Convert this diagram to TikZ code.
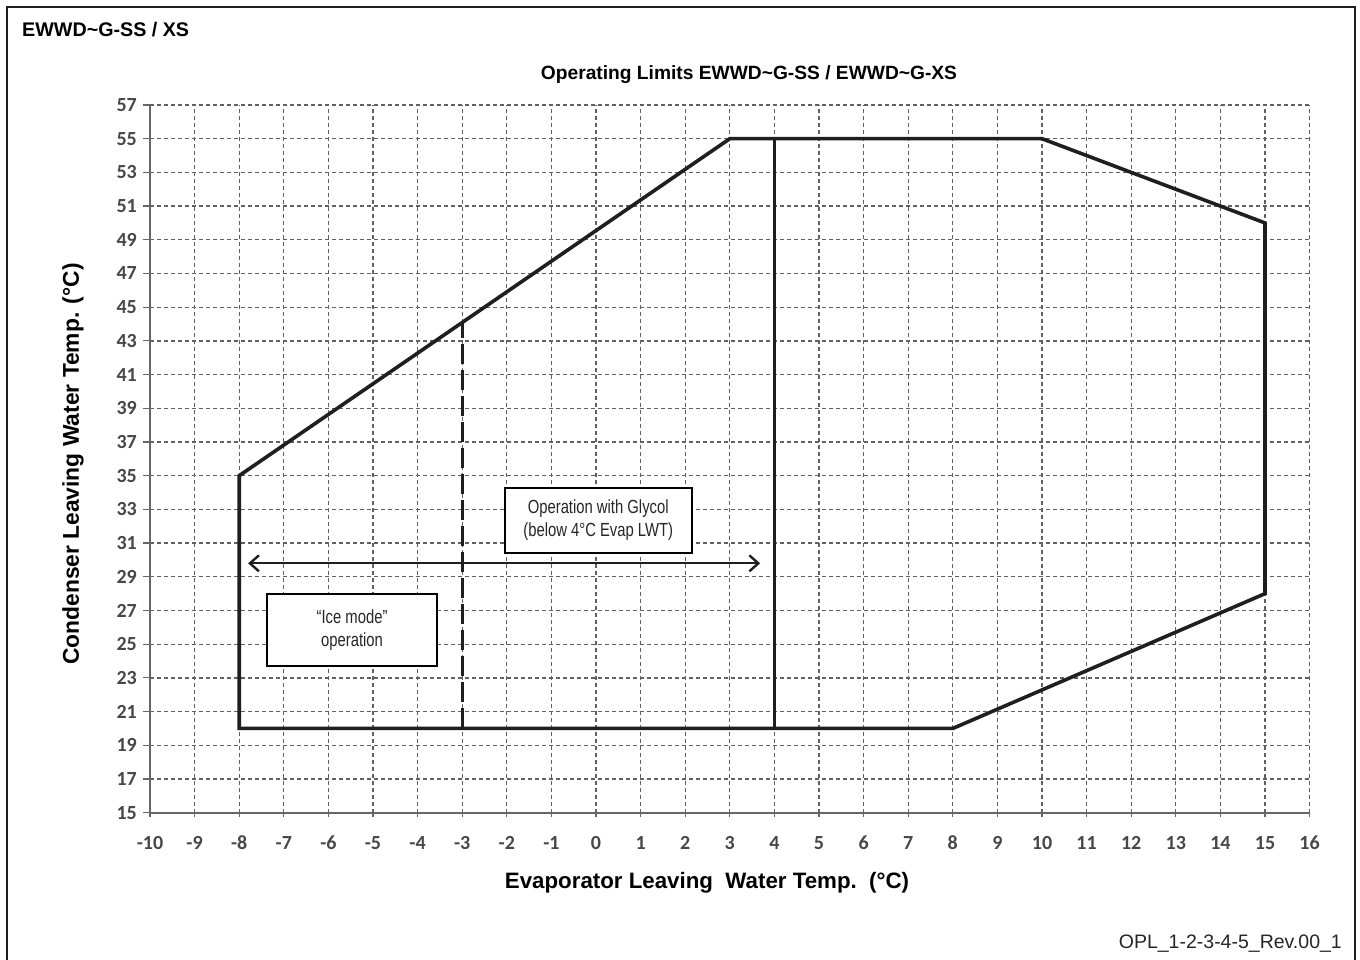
\documentclass[tikz,border=0pt]{standalone}
\usepackage{fontspec}
\setmainfont{Liberation Sans}
\newfontfamily\calibri{Carlito}
\newfontfamily\narrowfont[FakeStretch=0.78]{Liberation Sans}
\usetikzlibrary{arrows.meta}

\begin{document}
\begin{tikzpicture}[x=1pt,y=1pt,
    frame/.style={line width=2.2pt,black!88},
    gridline/.style={black!62,line width=1.3pt,dash pattern=on 4pt off 3pt},
    axisline/.style={black!60,line width=1.6pt},
    limit/.style={line width=3.6pt,black!88,line join=miter},
    ticklabel/.style={font=\calibri\bfseries\fontsize{20}{20}\selectfont,text=black!72,inner sep=0pt},
    labelbox/.style={draw,line width=2pt,fill=white,align=center,inner sep=0pt,
        font=\narrowfont\fontsize{19}{23.3}\selectfont,text=black!85}]
    \useasboundingbox (0,0) rectangle (1360,959);
    \fill[white] (0,0) rectangle (1360,959);
    % Frame
    \draw[frame] (7,-5) -- (7,952) -- (1355,952) -- (1355,-5);
    % Texts
    \node[anchor=base west,inner sep=0pt,font=\bfseries\fontsize{19.7}{19.7}\selectfont] (sheet) at (22,922) {EWWD\textasciitilde G-SS / XS};
    \node[inner sep=0pt,font=\bfseries\fontsize{19.2}{19.2}\selectfont] (title) at (749,884) {Operating Limits EWWD\textasciitilde G-SS / EWWD\textasciitilde G-XS};
    \node[inner sep=0pt,rotate=90,font=\bfseries\fontsize{22.8}{22.8}\selectfont] (ylabel) at (73,495) {Condenser Leaving Water Temp. (°C)};
    \node[inner sep=0pt,font=\bfseries\fontsize{22.3}{22.3}\selectfont] (xlabel) at (707,76) {Evaporator Leaving\ \ Water Temp.\ \ (°C)};
    \node[anchor=base east,inner sep=0pt,font=\fontsize{19.5}{19.5}\selectfont,text=black!85] (rev) at (1342,11) {OPL\_1-2-3-4-5\_Rev.00\_1};
    \begin{scope}[x=44.6pt,y=16.85pt,shift={(596pt,-106.45pt)}]
        % Grid
        \foreach \x in {-9,...,16}
            \draw[gridline] (\x,15) -- (\x,57);
        \foreach \y in {17,19,...,57}
            \draw[gridline] (-10,\y) -- (16,\y);
        % Axes
        \draw[axisline] (-10,57) -- (-10,15) -- (16,15);
        \foreach \x in {-10,...,16} {
            \draw[axisline,line width=1.2pt] (\x,15) ++(0,-4pt) -- ++(0,8pt);
            \node[ticklabel] (xt\x) at (\x,13.2) {\x};
        }
        \foreach \y in {15,17,...,57} {
            \draw[axisline,line width=1.2pt] (-10,\y) -- ++(-7pt,0);
            \node[ticklabel,anchor=east] (yt\y) at ([xshift=-13pt]-10,\y) {\y};
        }
        % Operating envelope
        \draw[limit] (-8,20) -- (-8,35) -- (3,55) -- (10,55) -- (15,50) -- (15,28) -- (8,20) -- cycle;
        \draw[limit] (4,20) -- (4,55);
        \draw[limit,line width=3.2pt,dash pattern=on 20pt off 6pt] (-3,20) -- (-3,44.09);
        % Glycol range
        \coordinate (glycolL) at (-7.8,29.8);
        \coordinate (glycolR) at (3.68,29.8);
        \draw[line width=2pt,black!88,{Straight Barb[length=9pt,width=16pt,line width=2.4pt]}-{Straight Barb[length=9pt,width=16pt,line width=2.4pt]}] (glycolL) -- (glycolR);
        % Labels
        \node[labelbox,minimum width=187pt,minimum height=65pt] (glycol) at (0.05,32.35) {Operation with Glycol\\(below 4°C Evap LWT)};
        \node[labelbox,minimum width=170pt,minimum height=72pt] (ice) at (-5.47,25.84) {“Ice mode”\\operation};
    \end{scope}
\end{tikzpicture}
\end{document}
